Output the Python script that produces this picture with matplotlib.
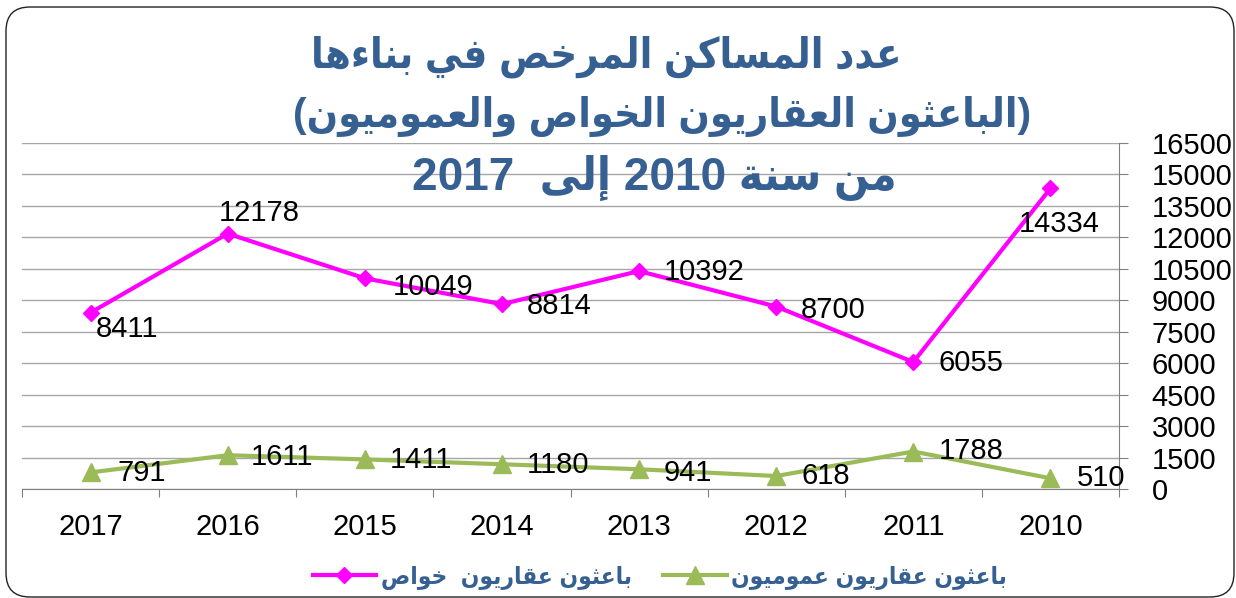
import re
import matplotlib
matplotlib.use('Agg')
import matplotlib.pyplot as plt
import numpy as np
from matplotlib.patches import FancyBboxPatch
from matplotlib.font_manager import FontProperties

# data (chronological order, the chart shows it right to left)
years = ['2010', '2011', '2012', '2013', '2014', '2015', '2016', '2017']
private = [14334, 6055, 8700, 10392, 8814, 10049, 12178, 8411]
public = [510, 1788, 618, 941, 1180, 1411, 1611, 791]

title_lines = ['عدد المساكن المرخص في بناءها',
               '(الباعثون العقاريون الخواص والعموميون)',
               'من سنة 2010 إلى  2017']
label_private = 'باعثون عقاريون  خواص'
label_public = 'باعثون عقاريون عموميون'

# label offsets in pixels (dx, dy)
private_offsets = [(-32, -36), (25, -1), (25, -3), (25, -1), (25, -2), (28, -9), (-9, 21), (5, -16)]
public_offsets = [(26, 0), (25, 1), (25, 0), (25, -4), (25, -1), (25, -1), (23, -2), (27, -1)]

MAGENTA = '#FF00FF'
GREEN = '#9BBB59'
BLUE = '#376092'
FAMILY = ['Liberation Sans', 'DejaVu Sans']

# isolated, final, initial, medial
FORMS = {
    'ء': ('\uFE80', None, None, None),
    'ا': ('\uFE8D', '\uFE8E', None, None),
    'إ': ('\uFE87', '\uFE88', None, None),
    'ب': ('\uFE8F', '\uFE90', '\uFE91', '\uFE92'),
    'ة': ('\uFE93', '\uFE94', None, None),
    'ث': ('\uFE99', '\uFE9A', '\uFE9B', '\uFE9C'),
    'خ': ('\uFEA5', '\uFEA6', '\uFEA7', '\uFEA8'),
    'د': ('\uFEA9', '\uFEAA', None, None),
    'ر': ('\uFEAD', '\uFEAE', None, None),
    'س': ('\uFEB1', '\uFEB2', '\uFEB3', '\uFEB4'),
    'ص': ('\uFEB9', '\uFEBA', '\uFEBB', '\uFEBC'),
    'ع': ('\uFEC9', '\uFECA', '\uFECB', '\uFECC'),
    'ف': ('\uFED1', '\uFED2', '\uFED3', '\uFED4'),
    'ق': ('\uFED5', '\uFED6', '\uFED7', '\uFED8'),
    'ك': ('\uFED9', '\uFEDA', '\uFEDB', '\uFEDC'),
    'ل': ('\uFEDD', '\uFEDE', '\uFEDF', '\uFEE0'),
    'م': ('\uFEE1', '\uFEE2', '\uFEE3', '\uFEE4'),
    'ن': ('\uFEE5', '\uFEE6', '\uFEE7', '\uFEE8'),
    'ه': ('\uFEE9', '\uFEEA', '\uFEEB', '\uFEEC'),
    'و': ('\uFEED', '\uFEEE', None, None),
    'ى': ('\uFEEF', '\uFEF0', None, None),
    'ي': ('\uFEF1', '\uFEF2', '\uFEF3', '\uFEF4'),
}


def shape(text):
    # join arabic letters and put them in visual (left to right) order
    out = []
    for i, ch in enumerate(text):
        if ch not in FORMS:
            out.append(ch)
            continue
        prev = text[i - 1] if i > 0 else ''
        nxt = text[i + 1] if i + 1 < len(text) else ''
        joins_prev = prev in FORMS and FORMS[prev][2] is not None
        joins_next = nxt in FORMS and FORMS[nxt][1] is not None
        iso, fin, ini, med = FORMS[ch]
        if joins_prev and fin is not None:
            out.append(med if (joins_next and med) else fin)
        elif joins_next and ini is not None:
            out.append(ini)
        else:
            out.append(iso)
    vis = ''.join(out)[::-1]
    vis = vis.translate(str.maketrans('()', ')('))
    return re.sub(r'[0-9]+', lambda m: m.group()[::-1], vis)


fig = plt.figure(figsize=(12.36, 5.98), dpi=100)

# rounded outer frame
W, H = 1236, 598
frame = FancyBboxPatch((6 / W, 1 / H), 1228 / W, 590 / H,
                       boxstyle='round,pad=0,rounding_size=%f' % (24 / W),
                       mutation_aspect=W / H, transform=fig.transFigure,
                       fc='none', ec='#222222', lw=1.0, zorder=-1)
fig.patches.append(frame)

ax = fig.add_axes([22 / W, 1 - 489 / H, 1097 / W, 346 / H])
ax.set_facecolor('none')
x = np.arange(len(years))

l_priv, = ax.plot(x, private, color=MAGENTA, lw=3, marker='D', ms=8, zorder=3)
l_pub, = ax.plot(x, public, color=GREEN, lw=3, marker='^', ms=13.5, zorder=3)

for xi, v, (dx, dy) in zip(x, private, private_offsets):
    ax.annotate(str(v), (xi, v), xytext=(dx, dy), textcoords='offset pixels',
                ha='left', va='center', fontsize=21, family=FAMILY, zorder=4)
for xi, v, (dx, dy) in zip(x, public, public_offsets):
    ax.annotate(str(v), (xi, v), xytext=(dx, dy), textcoords='offset pixels',
                ha='left', va='center', fontsize=21, family=FAMILY, zorder=4)

ax.set_xlim(7.5, -0.5)
ax.set_ylim(0, 16500)
ax.set_yticks(np.arange(0, 16501, 1500))
ax.yaxis.tick_right()
ax.grid(axis='y', color='#A6A6A6', lw=1)
ax.set_axisbelow(True)

ax.set_xticks(np.arange(-0.5, 8, 1))
ax.set_xticklabels([])
ax.set_xticks(x, minor=True)
ax.set_xticklabels(years, minor=True)
ax.tick_params(axis='x', which='major', length=6, color='#808080', direction='out')
ax.tick_params(axis='x', which='minor', length=0, pad=17, labelsize=21)
ax.tick_params(axis='y', length=6.5, color='#808080', direction='out', pad=17, labelsize=21)
for lab in ax.get_xticklabels(minor=True) + ax.get_yticklabels():
    lab.set_family(FAMILY)

for side in ['top', 'left']:
    ax.spines[side].set_visible(False)
for side in ['right', 'bottom']:
    ax.spines[side].set_color('#808080')

# title, three centred lines
title_pos = [(606, 68, 30), (662, 127, 29.5), (654, 190, 33)]
for txt, (cx, by, fs) in zip(title_lines, title_pos):
    fig.text(cx / W, 1 - by / H, shape(txt), ha='center', va='baseline',
             fontsize=fs, fontweight='bold', fontstretch='condensed',
             color=BLUE, family=FAMILY)

fig.legend([l_priv, l_pub], [shape(label_private), shape(label_public)],
           loc='center', bbox_to_anchor=(660 / W, 1 - 578 / H), ncol=2,
           frameon=False,
           prop=FontProperties(family=FAMILY, weight='bold', stretch='condensed', size=17.5),
           labelcolor=BLUE, handlelength=2.6, handletextpad=0.2, columnspacing=1.3)

fig.savefig('out.png', dpi=100)
